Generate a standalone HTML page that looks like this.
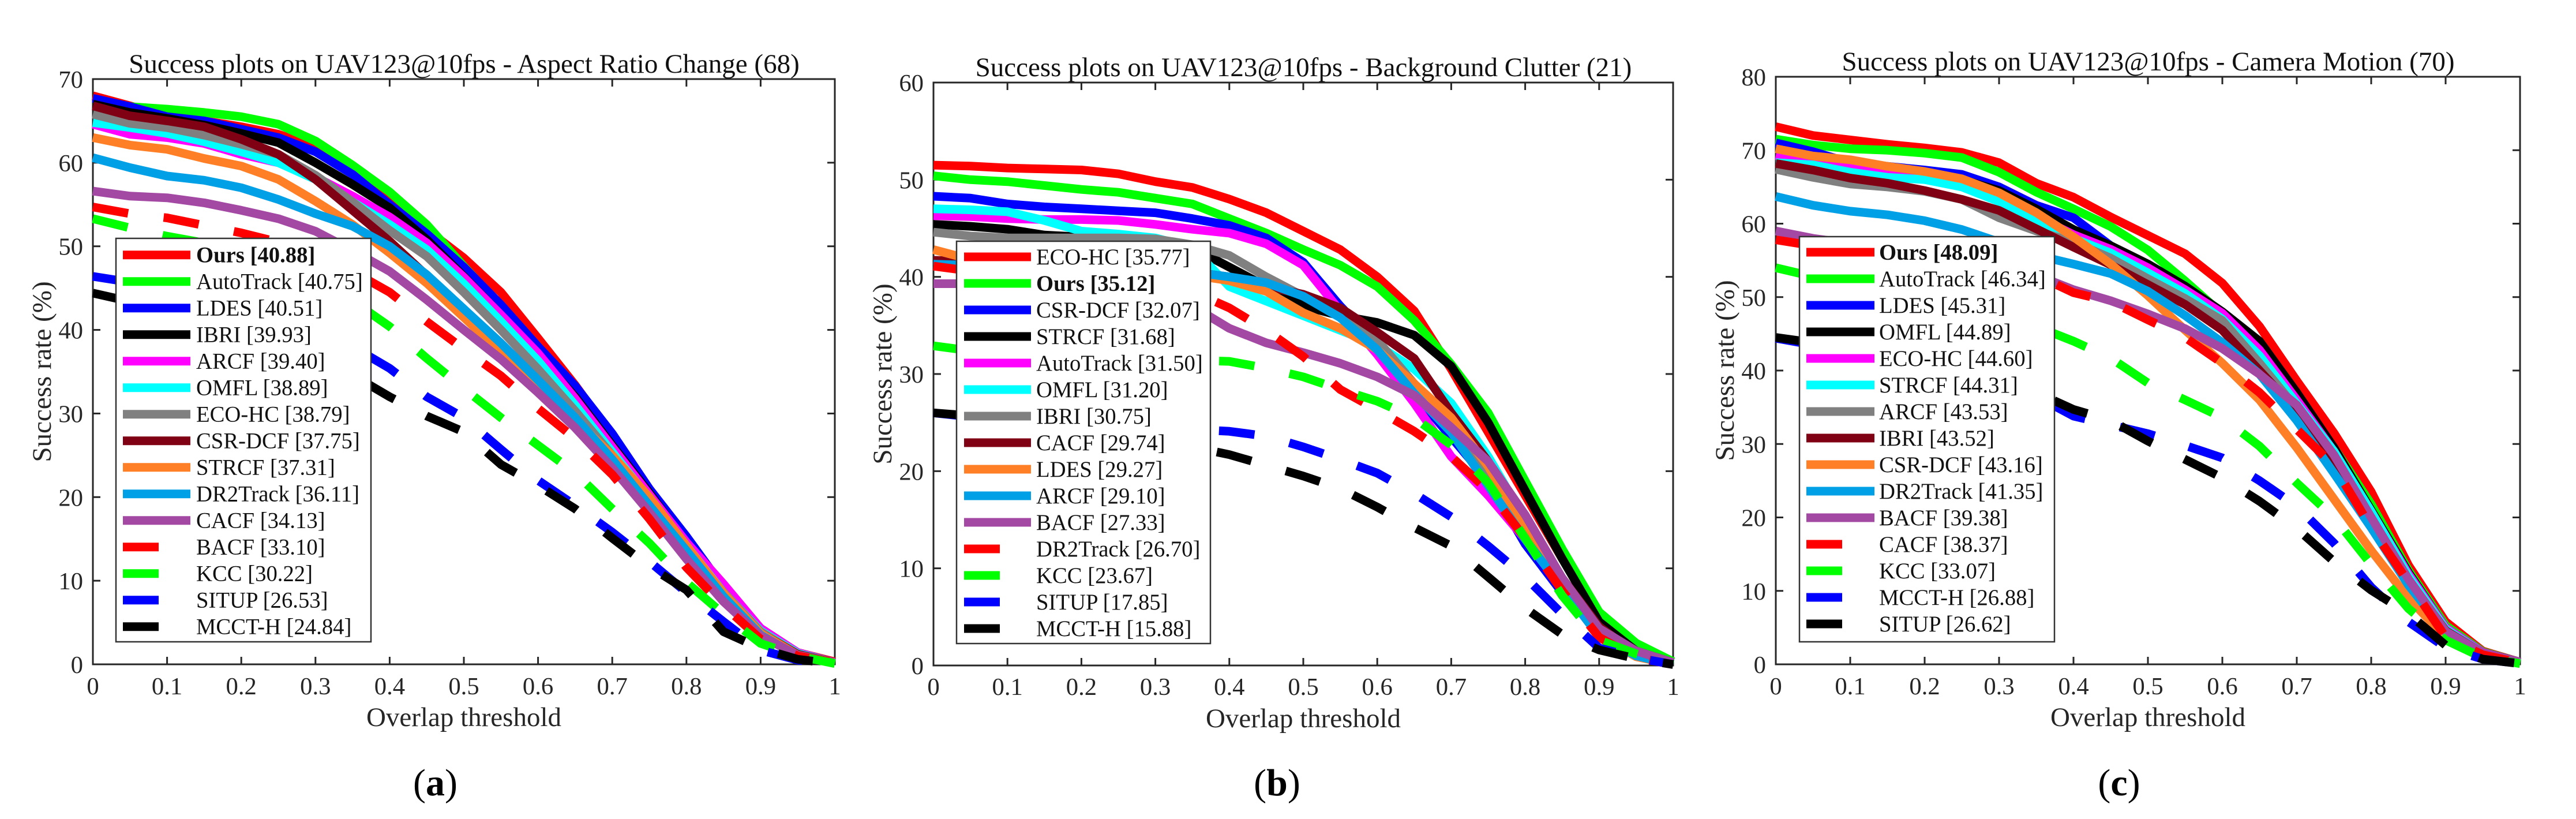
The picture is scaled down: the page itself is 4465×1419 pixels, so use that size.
<!DOCTYPE html>
<html lang="en">
<head>
<meta charset="utf-8">
<title>Success plots on UAV123@10fps</title>
<style>
html,body{margin:0;padding:0;background:#fff;}
svg{display:block;font-family:"Liberation Serif",serif;}
</style>
</head>
<body>
<svg id="figure" xmlns="http://www.w3.org/2000/svg" width="4465" height="1419" viewBox="0 0 4465 1419">
<rect x="0" y="0" width="4465" height="1419" fill="#fff"/>
</svg>
<script>
const thresholds = [0,.05,.1,.15,.2,.25,.3,.35,.4,.45,.5,.55,.6,.65,.7,.75,.8,.85,.9,.95,1];
const xTickLabels = ['0','0.1','0.2','0.3','0.4','0.5','0.6','0.7','0.8','0.9','1'];
const xTickValues = [0,.1,.2,.3,.4,.5,.6,.7,.8,.9,1];
const yTicksA = [0,10,20,30,40,50,60,70];
const yTicksB = [0,10,20,30,40,50,60];
const yTicksC = [0,10,20,30,40,50,60,70,80];

/* Panel (a): Aspect Ratio Change */
const namesA = ['Ours','AutoTrack','LDES','IBRI','ARCF','OMFL','ECO-HC','CSR-DCF','STRCF','DR2Track','CACF','BACF','KCC','SITUP','MCCT-H'];
const scoresA = ['40.88','40.75','40.51','39.93','39.40','38.89','38.79','37.75','37.31','36.11','34.13','33.10','30.22','26.53','24.84'];
const aOurs = [68,66.8,65.6,65,64.3,63.4,61.9,59,55.5,52,48.6,44.5,39,33.4,27.3,21,15,9.3,4.2,1.4,.3];
const aAutoTrack = [67,66.7,66.4,66,65.5,64.6,62.6,59.7,56.5,52.6,47.6,42.8,38,32.6,26.8,20.7,14.6,9,4,1.3,.2];
const aLDES = [67.7,66.7,65.5,65,64,63,61.3,58.6,55,51.5,47.5,43,38,33.3,27.6,21,15.3,9.2,4,1.3,.2];
const aIBRI = [67,66,65.3,64.5,63.5,62.4,60,57.4,54.6,50.8,46.4,41.8,37,32,26.2,20.5,14.5,9,4.3,1.4,.2];
const aARCF = [64.6,63.4,63,62.3,61,60,58.3,56,53.5,50.4,46.3,41.8,37.2,31.8,26,20.3,14.6,9.6,4.3,1.4,.2];
const aOMFL = [64.8,64.2,63.5,62.5,61.3,60,58,55.3,52.6,49.6,45.5,41,36.3,31,25.4,19.8,14.2,8.6,4,1.3,.2];
const aECO = [65.8,64.7,64.2,63.3,62.2,61,58.5,55.3,51.9,48.8,44.5,40,35.3,30.3,25,19.4,13.9,8.6,3.9,1.2,.2];
const aCSR = [66.8,65.6,65,64.3,62.8,61,58,54.3,50.6,46.5,42,38,33.5,29,24,18.6,13.3,8,3.7,1.2,.2];
const aSTRCF = [63,62.1,61.6,60.5,59.6,58,55.4,52.6,49.2,45.6,41.5,37.3,33.2,29.2,25,20,14.2,8.5,3.7,1.1,.2];
const aDR2 = [60.6,59.4,58.4,57.9,57,55.6,53.9,52.4,50,46.6,42.5,38.4,34,29.5,24.5,19,13.6,8.1,3.5,1,.2];
const aCACF = [56.6,56,55.8,55.2,54.3,53.3,51.8,49.5,47,43.6,40,36.5,32.5,28.3,23.5,18.2,12.6,7.5,3.4,1.1,.2];
const aBACF = [54.7,53.9,53.4,52.5,51.6,50.5,49,47,44.5,41,37.7,34.5,30.6,27,22.7,17.4,11.6,7,3,1,.2];
const aKCC = [53.3,52.2,51.2,50.4,49.5,48,46,43.5,40.4,36.6,33,29.5,26.2,22.9,18.6,14.5,9.8,6,2.5,1,.1];
const aSITUP = [46.4,45.7,45,44,43,41.5,40,38,35.4,32,29.5,25.7,22,19,15.8,12.3,8.6,5.1,1.7,.5,.05];
const aMCCT = [44.4,43.4,42,41,39.5,38.5,37,34.6,32,29.7,27.8,23.9,21.4,18.6,15.1,11.7,8.9,3.9,1.9,.6,.05];

/* Panel (b): Background Clutter */
const namesB = ['ECO-HC','Ours','CSR-DCF','STRCF','AutoTrack','OMFL','IBRI','CACF','LDES','ARCF','BACF','DR2Track','KCC','SITUP','MCCT-H'];
const scoresB = ['35.77','35.12','32.07','31.68','31.50','31.20','30.75','29.74','29.27','29.10','27.33','26.70','23.67','17.85','15.88'];
const bECO = [51.5,51.4,51.2,51.1,51,50.6,49.8,49.2,48,46.6,44.7,42.8,40,36.5,30.5,24,17.5,11,5.4,2,.4];
const bOurs = [50.4,50,49.8,49.4,49,48.7,48.1,47.5,46,44.5,42.8,41.2,39,35.5,31,26,19,12,5.5,2.3,.4];
const bCSR = [48.3,48.1,47.5,47.2,47,46.8,46.6,46,45.3,44,41.5,37,33,28,23.5,19,12.5,7.5,3.5,1.3,.2];
const bSTRCF = [45.4,45.2,44.9,44.3,44.1,43.9,43.7,43,41,39,37,36,35.3,34,30.8,25,18,11,4.5,1.5,.3];
const bAutoTrack = [46.3,46.2,46,45.9,45.9,45.8,45.4,44.9,44.5,43.4,41.2,36.5,32,27,21.5,17.5,13,8,3,1,.1];
const bOMFL = [47,46.9,46.7,45.8,44.7,44.4,44,43,39,37.5,36,34.5,33,30.5,27,21.5,15,9,3.5,1.2,.2];
const bIBRI = [44.6,44.2,44,44,44,44,43.9,43.3,42.2,40,38,36,33.5,29,24.5,20,14,8.5,4,1.2,.2];
const bCACF = [41.7,41.6,41.5,41.4,41.3,41,40.7,40.5,40,39,38.2,36.8,34.3,31.6,26,21,15,9,4,1.2,.2];
const bLDES = [42.8,41.8,41.2,41,41,40.8,40.5,40.2,39.6,38.5,36.3,34.7,32.5,29,25.5,20.5,14,8,3,.9,.1];
const bARCF = [41.3,41.2,41,41,40.9,40.8,40.7,40.5,40,39.4,38,35.8,32.5,28,24,18.5,13,8,3,1,.1];
const bBACF = [39.3,39.3,39.2,39.1,39,38.7,38.2,37,34.7,33.2,32.2,31.1,29.7,27.8,24.5,21,15.5,9,3.8,1.5,.3];
const bDR2 = [41.1,40.6,40.2,40,39.8,39.5,39,38.5,36.8,34.5,31.8,28.4,26.3,24.1,21.5,18,13.1,7.7,2.9,.8,.1];
const bKCC = [32.9,32.4,32.2,32,31.9,31.8,31.6,31.4,31.3,30.6,29.7,28.4,27.2,25.5,22.7,18.8,13.1,7.2,2.6,1.2,.1];
const bSITUP = [26,25.6,25.2,25,24.9,24.7,24.5,24.3,24.1,23.6,22.5,21.2,19.8,17.7,15.3,12.3,9.1,5.3,1.8,.8,.1];
const bMCCT = [26,25.7,25,24.5,24,23.5,23,22.5,21.7,20.6,19.5,18.2,16.3,14.2,12.3,9.1,5.9,3.2,1.6,.7,.1];

/* Panel (c): Camera Motion */
const namesC = ['Ours','AutoTrack','LDES','OMFL','ECO-HC','STRCF','ARCF','IBRI','CSR-DCF','DR2Track','BACF','CACF','KCC','MCCT-H','SITUP'];
const scoresC = ['48.09','46.34','45.31','44.89','44.60','44.31','43.53','43.52','43.16','41.35','39.38','38.37','33.07','26.88','26.62'];
const cOurs = [73.2,72,71.4,70.8,70.3,69.7,68.3,65.5,63.6,60.9,58.4,55.9,51.9,46,38.6,31.5,23.5,13.5,5.8,1.8,.3];
const cAutoTrack = [71.5,70.7,70.2,70,69.6,69,67,64.3,62,59.6,56.4,52.2,47.7,42.5,36,29.5,21.8,12.8,5.3,1.7,.3];
const cLDES = [71,69.8,68.3,67.8,67.3,66.7,65,62.5,60.8,57,54.3,51,47,42,35,28.7,20.8,12.3,5,1.6,.3];
const cOMFL = [68.5,68,67.7,67.3,67,66,64.5,62,59.2,57,54.5,51.5,48,44,37,29.5,21,12.5,5,1.6,.3];
const cECO = [69.3,68.3,67.7,67,66.4,65.3,63.3,61,58.5,56.5,54,51,47.8,42.8,36,29,20.8,12.3,5,1.6,.3];
const cSTRCF = [68.3,68,67,66.3,66,65,63,60.6,58,56,53.3,50.5,47,42,35.5,29,20.8,12,4.8,1.5,.3];
const cARCF = [67.4,66.3,65.4,65,64.4,63.3,60.8,59,57.5,55.3,52.5,49.8,46.8,41,34.8,28,20,11.6,4.6,1.5,.3];
const cIBRI = [68.2,67.3,66.2,65.5,64.5,63.3,61.8,59.3,56.8,54.4,51.7,49,45.5,40,34.5,27.7,19.8,11.4,4.6,1.5,.3];
const cCSR = [70.2,69.2,68.7,67.8,67.1,66.1,64.2,61.5,58.2,54.5,50.2,45.5,41,36,29.5,22.5,15.5,9,3.7,1.2,.2];
const cDR2 = [63.7,62.5,61.7,61.2,60.4,59.2,57.5,55.7,54.5,53.2,50.8,47.5,43.8,39.5,33.2,26,18.6,10.8,4.4,1.4,.2];
const cBACF = [59,58,57.3,56.5,55.8,54.8,54,53,51,49.5,47.7,45.7,43,39.5,35.3,28.5,20,11.6,4.5,1.5,.3];
const cCACF = [57.8,57,56.6,56,55.5,55,54.5,53,50.6,49.4,46.9,44.5,41,37,32,27,18.6,11.2,3.7,1.3,.2];
const cKCC = [54,52.8,51.5,50.5,49.5,49,48.2,46,44,41.7,38.3,36,33.6,29.7,24.7,20,13.6,7.6,3.3,.9,.1];
const cMCCT = [44.4,43.5,43,42,41,40,38.5,36.5,33.8,32.6,31.4,29.8,28.1,25,21.5,16.5,10.5,5.8,2.3,.7,.1];
const cSITUP = [44.5,43.8,43,42,41,40,38.6,37,34.7,33.2,30.4,27.9,25.4,22.2,18.5,14,10.1,6.9,2.6,.7,.1];

const rankColors = ['#ff0000','#00ff00','#0000ff','#000000','#ff00ff','#00ffff','#808080','#800014','#ff7f27','#00a0e6','#a349a4','#ff0000','#00ff00','#0000ff','#000000'];

const panels = [
  {id:'a', caption:'a', title:'Success plots on UAV123@10fps - Aspect Ratio Change (68)',
   box:{l:161,r:1447,t:137,b:1151}, yTicks:yTicksA, names:namesA, scores:scoresA,
   series:[aOurs,aAutoTrack,aLDES,aIBRI,aARCF,aOMFL,aECO,aCSR,aSTRCF,aDR2,aCACF,aBACF,aKCC,aSITUP,aMCCT],
   legend:{l:201,r:643,t:413,b:1112,line0:213,line1:330,text:340,row0:441.7}, boldRow:0, capX:754.5, xBase:1203, labelBase:1258},
  {id:'b', caption:'b', title:'Success plots on UAV123@10fps - Background Clutter (21)',
   box:{l:1618,r:2900,t:143,b:1153}, yTicks:yTicksB, names:namesB, scores:scoresB,
   series:[bECO,bOurs,bCSR,bSTRCF,bAutoTrack,bOMFL,bIBRI,bCACF,bLDES,bARCF,bBACF,bDR2,bKCC,bSITUP,bMCCT],
   legend:{l:1658,r:2098,t:418,b:1115,line0:1671,line1:1787,text:1796,row0:445}, boldRow:1, capX:2213.5, xBase:1204, labelBase:1260},
  {id:'c', caption:'c', title:'Success plots on UAV123@10fps - Camera Motion (70)',
   box:{l:3078,r:4368,t:133,b:1151}, yTicks:yTicksC, names:namesC, scores:scoresC,
   series:[cOurs,cAutoTrack,cLDES,cOMFL,cECO,cSTRCF,cARCF,cIBRI,cCSR,cDR2,cBACF,cCACF,cKCC,cMCCT,cSITUP],
   legend:{l:3119,r:3561,t:410,b:1112,line0:3131,line1:3249,text:3257,row0:437}, boldRow:0, capX:3673, xBase:1203, labelBase:1258}
];

const NS = 'http://www.w3.org/2000/svg';
const figure = document.getElementById('figure');
const AXIS = '#262626';

function make(tag, attrs, parent, txt) {
  const node = document.createElementNS(NS, tag);
  for (const k in attrs) node.setAttribute(k, attrs[k]);
  if (txt !== undefined) node.textContent = txt;
  parent.appendChild(node);
  return node;
}

panels.forEach(function (p) {
  const b = p.box;
  const yMax = p.yTicks[p.yTicks.length - 1];
  const xScale = function (v) { return b.l + (b.r - b.l) * v; };
  const yScale = function (v) { return b.b - (b.b - b.t) * v / yMax; };
  const cx = (b.l + b.r) / 2;
  const cy = (b.t + b.b) / 2;

  const g = make('g', {}, figure);
  
  

  const frame = make('rect', {x:b.l, y:b.t, width:b.r-b.l, height:b.b-b.t, fill:'none', stroke:AXIS, 'stroke-width':3}, g);
  
  

  xTickValues.forEach(function (v, i) {
    const x = xScale(v);
    const t1 = make('line', {x1:x, x2:x, y1:b.b, y2:b.b-13, stroke:AXIS, 'stroke-width':3}, g);
    
    
    const t2 = make('line', {x1:x, x2:x, y1:b.t, y2:b.t+13, stroke:AXIS, 'stroke-width':3}, g);
    
    
    const lab = make('text', {x:x, y:p.xBase, 'text-anchor':'middle', 'font-size':42.7, fill:AXIS}, g, xTickLabels[i]);
    
    
  });

  p.yTicks.forEach(function (v) {
    const y = yScale(v);
    const t1 = make('line', {x1:b.l, x2:b.l+13, y1:y, y2:y, stroke:AXIS, 'stroke-width':3}, g);
    
    
    const t2 = make('line', {x1:b.r, x2:b.r-13, y1:y, y2:y, stroke:AXIS, 'stroke-width':3}, g);
    
    
    const lab = make('text', {x:b.l-17, y:y+15, 'text-anchor':'end', 'font-size':42.7, fill:AXIS}, g, String(v));
    
    
  });

  const title = make('text', {x:cx+0.5, y:b.t-11, 'text-anchor':'middle', 'font-size':47, fill:'#111'}, g, p.title);
  
  

  const xl = make('text', {x:cx, y:p.labelBase, 'text-anchor':'middle', 'font-size':47, fill:AXIS}, g, 'Overlap threshold');
  
  

  const yl = make('text', {x:0, y:0, transform:'translate(' + (b.l-73) + ' ' + cy + ') rotate(-90)', 'text-anchor':'middle', 'font-size':47, fill:AXIS}, g, 'Success rate (%)');
  
  

  p.series.forEach(function (values, i) {
    const pts = values.map(function (v, j) { return xScale(thresholds[j]).toFixed(1) + ',' + yScale(v).toFixed(1); }).join(' ');
    const attrs = {points:pts, fill:'none', stroke:rankColors[i], 'stroke-width':15, 'stroke-linejoin':'round'};
    if (i > 10) attrs['stroke-dasharray'] = '62 62';
    const line = make('polyline', attrs, g);
    
    
  });

  const L = p.legend;
  const lg = make('g', {}, g);
  
  
  const lb = make('rect', {x:L.l, y:L.t, width:L.r-L.l, height:L.b-L.t, fill:'#fff', stroke:'#333', 'stroke-width':2.5}, lg);
  
  

  p.names.forEach(function (name, i) {
    const y = L.row0 + 46 * i;
    const attrs = {x1:L.line0, x2:L.line1, y1:y, y2:y, stroke:rankColors[i], 'stroke-width':15};
    if (i > 10) attrs['stroke-dasharray'] = '62 62';
    const sw = make('line', attrs, lg);
    
    
    const tattrs = {x:L.text, y:y+13, 'font-size':38.7, fill:'#111'};
    if (i === p.boldRow) tattrs['font-weight'] = 'bold';
    const tx = make('text', tattrs, lg, name + ' [' + p.scores[i] + ']');
    
    
  });

  const cap = make('text', {x:p.capX, y:1378, 'text-anchor':'middle', 'font-size':66, fill:'#000'}, figure);
  
  
  make('tspan', {}, cap, '(');
  make('tspan', {'font-weight':'bold'}, cap, p.caption);
  make('tspan', {}, cap, ')');
});
</script>
</body>
</html>
